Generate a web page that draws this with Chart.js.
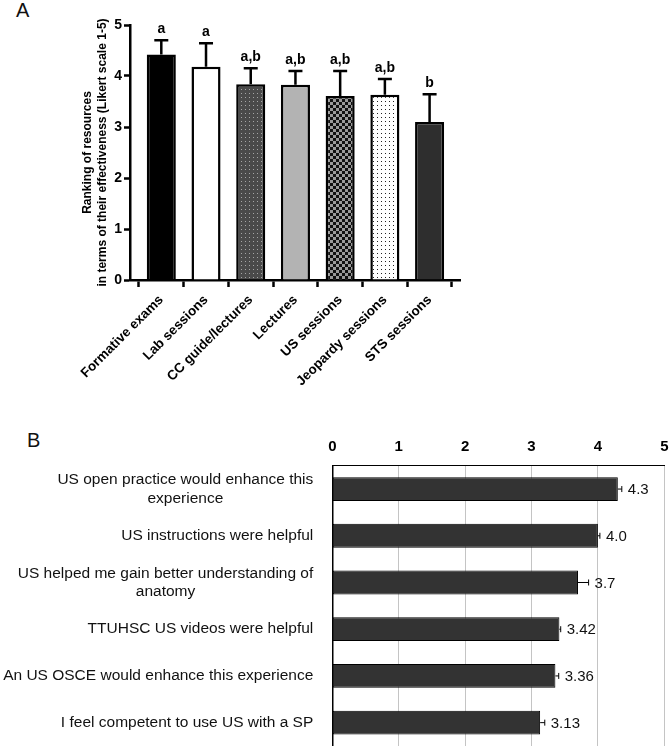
<!DOCTYPE html>
<html>
<head>
<meta charset="utf-8">
<script src="https://cdn.jsdelivr.net/npm/chart.js@4.4.1/dist/chart.umd.min.js"></script>
<style>
    body { margin: 0; background: #fff; font-family: "Liberation Sans", Arial, sans-serif; }
    .wrap { position: relative; width: 669px; height: 746px; overflow: hidden; }
    canvas { position: absolute; left: 0; }
    .panel { position: absolute; font-size: 20px; line-height: 20px; color: #111; }
</style>
</head>
<body>
<div class="wrap">
    <div class="panel" style="left:16px;top:0px;">A</div>
    <div class="panel" style="left:27px;top:430px;">B</div>
    <canvas id="chartA" width="669" height="400" style="top:0"></canvas>
    <canvas id="chartB" width="680" height="346" style="top:400px"></canvas>
</div>
<script>
// Panel A data
const resources = ["Formative exams", "Lab sessions", "CC guide/lectures", "Lectures", "US sessions", "Jeopardy sessions", "STS sessions"];
const resourceMeans = [4.42, 4.18, 3.84, 3.83, 3.61, 3.63, 3.10];
const resourceSD = [0.28, 0.46, 0.31, 0.27, 0.49, 0.31, 0.54];
const resourceLetters = ["a", "a", "a,b", "a,b", "a,b", "a,b", "b"];

// Panel B data
const statements = [
    ["US open practice would enhance this", "experience"],
    "US instructions were helpful",
    ["US helped me gain better understanding of", "anatomy"],
    "TTUHSC US videos were helpful",
    "An US OSCE would enhance this experience",
    "I feel competent to use US with a SP"
];
const agreeMeans = [4.3, 4.0, 3.7, 3.42, 3.36, 3.13];
const agreeErr = [0.06, 0.03, 0.16, 0.02, 0.05, 0.07];
const agreeLabels = ["4.3", "4.0", "3.7", "3.42", "3.36", "3.13"];

Chart.defaults.font.family = '"Liberation Sans", Arial, sans-serif';
Chart.defaults.color = "#000";

function makePattern(size, bg, draw) {
    const c = document.createElement("canvas");
    c.width = size;
    c.height = size;
    const g = c.getContext("2d");
    g.fillStyle = bg;
    g.fillRect(0, 0, size, size);
    draw(g);
    return g.createPattern(c, "repeat");
}

const dottedDark = makePattern(4, "#4a4a4a", g => {
    g.fillStyle = "#a6a6a6";
    g.fillRect(1, 1, 1, 1);
});
const checker = makePattern(6, "#111", g => {
    g.fillStyle = "#9a9a9a";
    g.fillRect(0, 0, 3, 3);
    g.fillRect(3, 3, 3, 3);
});
const dottedLight = makePattern(4, "#fff", g => {
    g.fillStyle = "#222";
    g.fillRect(1, 1, 1, 1);
});

const barFills = ["#000", "#fff", dottedDark, "#b3b3b3", checker, dottedLight, "#2e2e2e"];

const errorBarsA = {
    id: "errorBarsA",
    afterDatasetsDraw(chart) {
        const ctx = chart.ctx;
        const y = chart.scales.y;
        const meta = chart.getDatasetMeta(0);
        ctx.save();
        ctx.strokeStyle = "#000";
        ctx.lineWidth = 2.5;
        ctx.fillStyle = "#000";
        ctx.font = 'bold 14px "Liberation Sans", Arial, sans-serif';
        ctx.textAlign = "center";
        ctx.textBaseline = "bottom";
        meta.data.forEach((bar, i) => {
            const top = y.getPixelForValue(resourceMeans[i] + resourceSD[i]);
            ctx.beginPath();
            ctx.moveTo(bar.x, bar.y);
            ctx.lineTo(bar.x, top);
            ctx.moveTo(bar.x - 7, top);
            ctx.lineTo(bar.x + 7, top);
            ctx.stroke();
            ctx.fillText(resourceLetters[i], bar.x, top - 4);
        });
        ctx.restore();
    }
};

new Chart(document.getElementById("chartA"), {
    type: "bar",
    data: {
        datasets: [{
            data: resourceMeans.map((v, i) => ({ x: i, y: v })),
            backgroundColor: barFills,
            borderColor: "#000",
            borderWidth: 2.5,
            categoryPercentage: 1,
            barPercentage: 0.65
        }]
    },
    options: {
        responsive: false,
        animation: false,
        layout: { padding: { left: 79, top: 25, right: 209, bottom: 0 } },
        plugins: { legend: { display: false }, tooltip: { enabled: false } },
        scales: {
            x: {
                type: "linear",
                min: -0.7,
                max: 6.68,
                offset: false,
                afterBuildTicks: s => { s.ticks = resources.map((_, i) => ({ value: i })); },
                afterFit: s => { s.height = 120; },
                ticks: {
                    autoSkip: false,
                    minRotation: 45,
                    maxRotation: 45,
                    padding: 5,
                    font: { size: 13.5, weight: "bold" },
                    callback: v => resources[v]
                },
                grid: { drawOnChartArea: false, tickLength: 7, tickWidth: 2.5, tickColor: "#000" },
                border: { color: "#000", width: 2.5 }
            },
            y: {
                min: 0,
                max: 5,
                afterFit: s => { s.width = 51; },
                ticks: { stepSize: 1, padding: 2, font: { size: 14, weight: "bold" } },
                grid: { drawOnChartArea: false, tickLength: 6, tickWidth: 2.5, tickColor: "#000" },
                border: { color: "#000", width: 2.5 },
                title: {
                    display: true,
                    text: ["Ranking of resources", "in terms of their effectiveness (Likert scale 1-5)"],
                    font: { size: 12, weight: "bold", lineHeight: 1.25 },
                    padding: { top: 1.5, bottom: 0 }
                }
            }
        }
    },
    plugins: [errorBarsA]
});

const labelsB = {
    id: "labelsB",
    afterDatasetsDraw(chart) {
        const ctx = chart.ctx;
        const xs = chart.scales.x;
        const ys = chart.scales.y;
        const meta = chart.getDatasetMeta(0);
        ctx.save();
        ctx.fillStyle = "#111";
        ctx.font = '15.5px "Liberation Sans", Arial, sans-serif';
        ctx.textBaseline = "middle";
        ctx.textAlign = "center";
        // category labels: block right-aligned, lines centered inside it
        statements.forEach((label, i) => {
            const lines = [].concat(label);
            const yc = ys.getPixelForValue(i);
            const w = Math.max(...lines.map(l => ctx.measureText(l).width));
            const cx = chart.chartArea.left - 19 - w / 2;
            lines.forEach((l, k) => ctx.fillText(l, cx, yc + (k - (lines.length - 1) / 2) * 18.5));
        });
        // error bars and value labels
        ctx.font = '15px "Liberation Sans", Arial, sans-serif';
        ctx.strokeStyle = "#000";
        ctx.lineWidth = 1;
        ctx.textAlign = "left";
        meta.data.forEach((bar, i) => {
            const end = xs.getPixelForValue(agreeMeans[i] + agreeErr[i]);
            ctx.beginPath();
            ctx.moveTo(bar.x, bar.y);
            ctx.lineTo(end, bar.y);
            ctx.moveTo(end, bar.y - 3);
            ctx.lineTo(end, bar.y + 3);
            ctx.stroke();
            ctx.fillText(agreeLabels[i], end + 6, bar.y + 1);
        });
        ctx.restore();
    }
};

new Chart(document.getElementById("chartB"), {
    type: "bar",
    data: {
        labels: statements,
        datasets: [{
            data: agreeMeans,
            backgroundColor: "#333",
            borderColor: "#000",
            borderWidth: 1,
            borderSkipped: false,
            categoryPercentage: 1,
            barPercentage: 0.51
        }]
    },
    options: {
        indexAxis: "y",
        responsive: false,
        animation: false,
        layout: { padding: { left: 0, top: 0, right: 15.7, bottom: 0 } },
        plugins: { legend: { display: false }, tooltip: { enabled: false } },
        scales: {
            x: {
                position: "top",
                min: 0,
                max: 5,
                afterFit: s => { s.height = 65.7; },
                ticks: { stepSize: 1, padding: 10, font: { size: 15, weight: "bold" } },
                grid: {
                    drawTicks: false,
                    color: c => (c.tick && c.tick.value === 0 ? "rgba(0,0,0,0)" : "#c4c4c4"),
                    lineWidth: 1
                },
                border: { color: "#000", width: 1 }
            },
            y: {
                afterFit: s => { s.width = 332.3; },
                ticks: { display: false },
                grid: { drawOnChartArea: false, drawTicks: false },
                border: { color: "#000", width: 1.5 }
            }
        }
    },
    plugins: [labelsB]
});
</script>
</body>
</html>
